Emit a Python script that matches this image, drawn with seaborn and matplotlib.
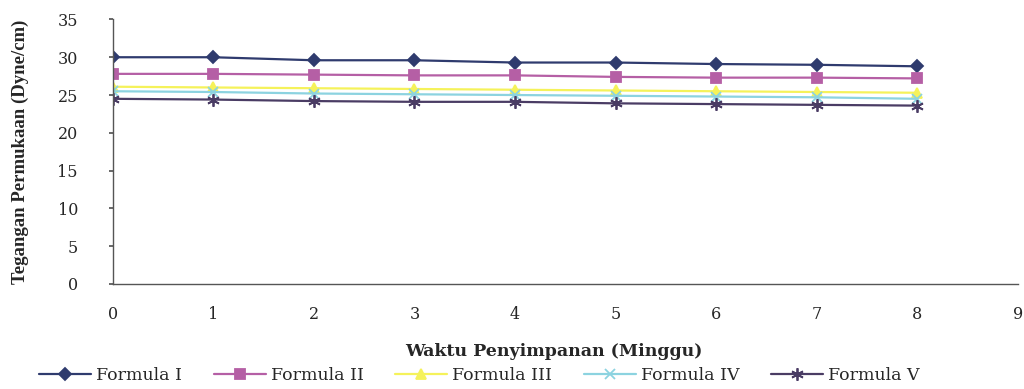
import numpy as np
import pandas as pd
import matplotlib
matplotlib.use("Agg")
import matplotlib.pyplot as plt
import seaborn as sns

weeks = [0, 1, 2, 3, 4, 5, 6, 7, 8]
formula_1 = [30.0, 30.0, 29.6, 29.6, 29.3, 29.3, 29.1, 29.0, 28.8]
formula_2 = [27.8, 27.8, 27.7, 27.6, 27.6, 27.4, 27.3, 27.3, 27.2]
formula_3 = [26.1, 26.0, 25.9, 25.8, 25.7, 25.6, 25.5, 25.4, 25.3]
formula_4 = [25.5, 25.4, 25.2, 25.1, 25.0, 24.9, 24.8, 24.7, 24.5]
formula_5 = [24.5, 24.4, 24.2, 24.1, 24.1, 23.9, 23.8, 23.7, 23.6]
series_names = ["Formula I", "Formula II", "Formula III", "Formula IV", "Formula V"]
x_ticks = [0, 1, 2, 3, 4, 5, 6, 7, 8, 9]
y_ticks = [0, 5, 10, 15, 20, 25, 30, 35]

sns.set_theme(style="white")
plt.rcParams['font.family'] = ['DejaVu Serif', 'Liberation Serif']

rows = []
for name, vals in zip(series_names, [formula_1, formula_2, formula_3, formula_4, formula_5]):
    for w, v in zip(weeks, vals):
        rows.append({"Minggu": w, "Nilai": v, "Formula": name})
df = pd.DataFrame(rows)

colors = {"Formula I": "#2F3B6E", "Formula II": "#B55FA5", "Formula III": "#F5F25A",
          "Formula IV": "#8CD3E0", "Formula V": "#4A3C64"}
markers = {"Formula I": "D", "Formula II": "s", "Formula III": "^",
           "Formula IV": "x", "Formula V": (6, 2, 0)}
msize = {"Formula I": 6, "Formula II": 7, "Formula III": 7, "Formula IV": 7, "Formula V": 9}

fig = plt.figure(figsize=(10.24, 3.89), dpi=100)
ax = fig.add_axes([0.110, 0.270, 0.884, 0.680])

for name in series_names:
    sub = df[df["Formula"] == name]
    sns.lineplot(data=sub, x="Minggu", y="Nilai", ax=ax, color=colors[name],
                 marker=markers[name], markersize=msize[name], linewidth=1.6,
                 markeredgecolor=colors[name], markeredgewidth=1.3, label=name)

ax.set_xlim(0, 9)
ax.set_ylim(0, 35)
ax.set_xticks(x_ticks)
ax.set_yticks(y_ticks)
ax.tick_params(axis='both', labelsize=11.5, color="#555555", direction="out")
ax.tick_params(axis='y', length=3, pad=22, left=True)
ax.tick_params(axis='x', length=0, pad=16, bottom=True)
for s in ["top", "right"]:
    ax.spines[s].set_visible(False)
for s in ["left", "bottom"]:
    ax.spines[s].set_color("#555555")
    ax.spines[s].set_linewidth(1.0)
ax.set_xlabel("Waktu Penyimpanan (Minggu)", fontsize=12.5, fontweight="bold")
ax.xaxis.set_label_coords(0.487, -0.225)
ax.set_ylabel("Tegangan Permukaan (Dyne/cm)", fontsize=13.5, fontweight="bold",
              family="Liberation Serif")
ax.yaxis.set_label_coords(-0.092, 0.5)
ax.legend(loc="center", bbox_to_anchor=(0.405, -0.345), ncol=5, frameon=False,
          fontsize=12.5, handlelength=3.0, columnspacing=1.8, handletextpad=0.3,
          borderaxespad=0)
fig.savefig("out.png", dpi=100, facecolor="white")
